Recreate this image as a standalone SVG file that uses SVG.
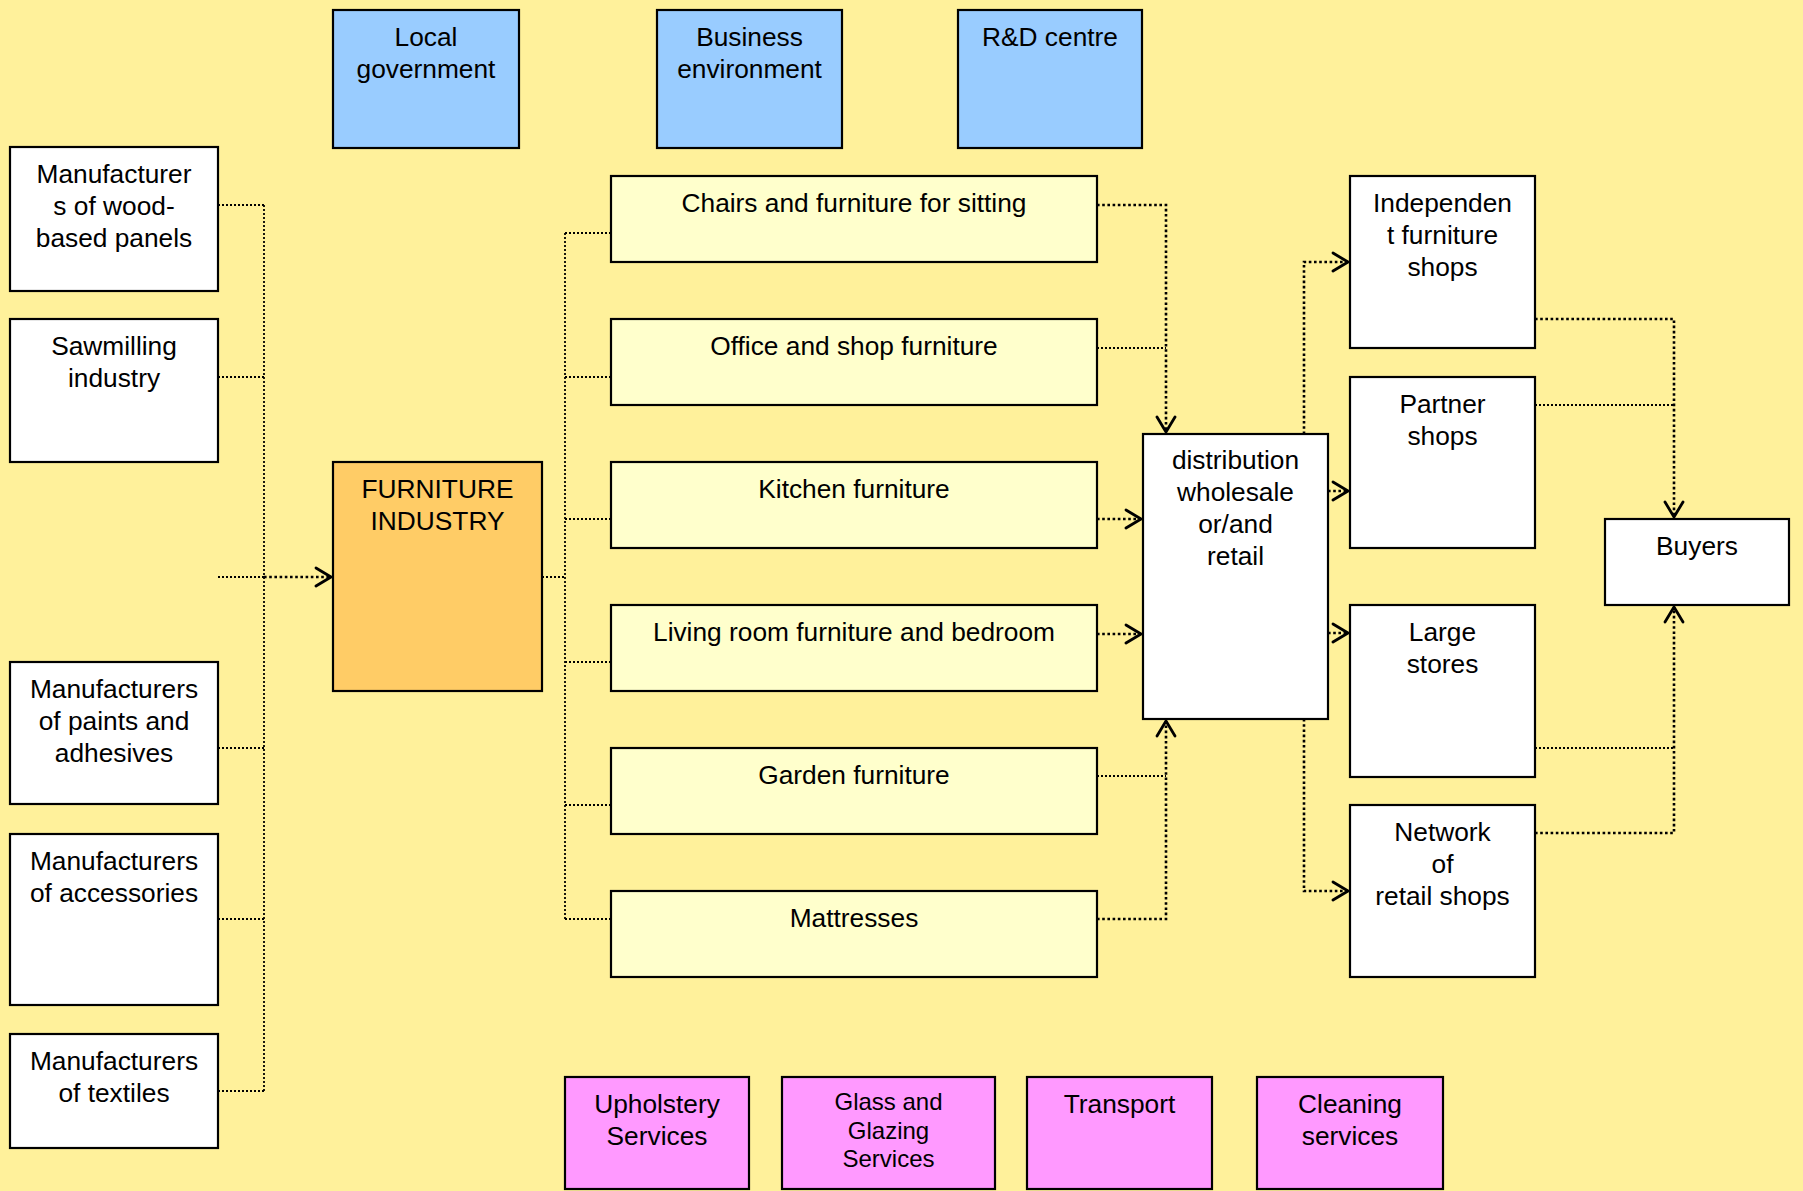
<svg xmlns="http://www.w3.org/2000/svg" width="1803" height="1191" viewBox="0 0 1803 1191">
<style>
.box{stroke:#000;stroke-width:2.2}
.white{fill:#fff}
.blue{fill:#99ccff}
.orange{fill:#ffcc66}
.pale{fill:#ffffcc}
.pink{fill:#ff99ff}
text{font-family:"Liberation Sans",Arial,sans-serif;font-size:26.3px;fill:#000;text-anchor:middle}
.small{font-size:24px}
.bus{fill:none;stroke:#000;stroke-width:1.8;stroke-dasharray:2 2}
.arr{fill:none;stroke:#000;stroke-width:2.6;stroke-dasharray:2.6 2.6}
</style>
<defs>
<marker id="ah" markerUnits="userSpaceOnUse" viewBox="-18 -11 20 22" refX="0" refY="0" markerWidth="20" markerHeight="22" orient="auto">
<path d="M-15,-9 L0,0 L-15,9" fill="none" stroke="#000" stroke-width="2.8" stroke-linecap="round" stroke-linejoin="miter"/>
</marker>
</defs>
<rect x="0" y="0" width="1803" height="1191" fill="#fff19b"/>

<g id="connectors">
<path class="bus" d="M218,205H264M218,377H264M218,748H264M218,919H264M218,1091H264M264,205V1091M218,577H264"/>
<path class="arr" d="M264,577H331" marker-end="url(#ah)"/>
<path class="bus" d="M542,577H565M565,233V919M565,233H611M565,377H611M565,519H611M565,662H611M565,805H611M565,919H611"/>
<path class="arr" d="M1097,205H1166V432" marker-end="url(#ah)"/>
<path class="bus" d="M1097,348H1166M1097,776H1166"/>
<path class="arr" d="M1097,519H1141" marker-end="url(#ah)"/>
<path class="arr" d="M1097,634H1141" marker-end="url(#ah)"/>
<path class="arr" d="M1097,919H1166V721" marker-end="url(#ah)"/>
<path class="arr" d="M1304,434V262H1348" marker-end="url(#ah)"/>
<path class="arr" d="M1328,491H1348" marker-end="url(#ah)"/>
<path class="arr" d="M1328,633H1348" marker-end="url(#ah)"/>
<path class="arr" d="M1304,719V891H1348" marker-end="url(#ah)"/>
<path class="arr" d="M1535,319H1674V517" marker-end="url(#ah)"/>
<path class="bus" d="M1535,405H1674M1535,748H1674"/>
<path class="arr" d="M1535,833H1674V607" marker-end="url(#ah)"/>
</g>

<g id="local-government"><rect class="box blue" x="333" y="10" width="186" height="138"/><text x="426" y="46">Local</text><text x="426" y="78">government</text></g>
<g id="business-environment"><rect class="box blue" x="657" y="10" width="185" height="138"/><text x="749.5" y="46">Business</text><text x="749.5" y="78">environment</text></g>
<g id="rd-centre"><rect class="box blue" x="958" y="10" width="184" height="138"/><text x="1050" y="46">R&amp;D centre</text></g>

<g id="wood-panels"><rect class="box white" x="10" y="147" width="208" height="144"/><text x="114" y="183">Manufacturer</text><text x="114" y="215">s of wood-</text><text x="114" y="247">based panels</text></g>
<g id="sawmilling"><rect class="box white" x="10" y="319" width="208" height="143"/><text x="114" y="355">Sawmilling</text><text x="114" y="387">industry</text></g>
<g id="paints"><rect class="box white" x="10" y="662" width="208" height="142"/><text x="114" y="698">Manufacturers</text><text x="114" y="730">of paints and</text><text x="114" y="762">adhesives</text></g>
<g id="accessories"><rect class="box white" x="10" y="834" width="208" height="171"/><text x="114" y="870">Manufacturers</text><text x="114" y="902">of accessories</text></g>
<g id="textiles"><rect class="box white" x="10" y="1034" width="208" height="114"/><text x="114" y="1070">Manufacturers</text><text x="114" y="1102">of textiles</text></g>

<g id="furniture-industry"><rect class="box orange" x="333" y="462" width="209" height="229"/><text x="437.5" y="498">FURNITURE</text><text x="437.5" y="530">INDUSTRY</text></g>

<g id="chairs"><rect class="box pale" x="611" y="176" width="486" height="86"/><text x="854" y="212">Chairs and furniture for sitting</text></g>
<g id="office"><rect class="box pale" x="611" y="319" width="486" height="86"/><text x="854" y="355">Office and shop furniture</text></g>
<g id="kitchen"><rect class="box pale" x="611" y="462" width="486" height="86"/><text x="854" y="498">Kitchen furniture</text></g>
<g id="living"><rect class="box pale" x="611" y="605" width="486" height="86"/><text x="854" y="641">Living room furniture and bedroom</text></g>
<g id="garden"><rect class="box pale" x="611" y="748" width="486" height="86"/><text x="854" y="784">Garden furniture</text></g>
<g id="mattresses"><rect class="box pale" x="611" y="891" width="486" height="86"/><text x="854" y="927">Mattresses</text></g>

<g id="distribution"><rect class="box white" x="1143" y="434" width="185" height="285"/><text x="1235.5" y="469">distribution</text><text x="1235.5" y="501">wholesale</text><text x="1235.5" y="533">or/and</text><text x="1235.5" y="565">retail</text></g>

<g id="independent"><rect class="box white" x="1350" y="176" width="185" height="172"/><text x="1442.5" y="212">Independen</text><text x="1442.5" y="244">t furniture</text><text x="1442.5" y="276">shops</text></g>
<g id="partner"><rect class="box white" x="1350" y="377" width="185" height="171"/><text x="1442.5" y="413">Partner</text><text x="1442.5" y="445">shops</text></g>
<g id="large-stores"><rect class="box white" x="1350" y="605" width="185" height="172"/><text x="1442.5" y="641">Large</text><text x="1442.5" y="673">stores</text></g>
<g id="network"><rect class="box white" x="1350" y="805" width="185" height="172"/><text x="1442.5" y="841">Network</text><text x="1442.5" y="873">of</text><text x="1442.5" y="905">retail shops</text></g>

<g id="buyers"><rect class="box white" x="1605" y="519" width="184" height="86"/><text x="1697" y="555">Buyers</text></g>

<g id="upholstery"><rect class="box pink" x="565" y="1077" width="184" height="112"/><text x="657" y="1113">Upholstery</text><text x="657" y="1145">Services</text></g>
<g id="glass"><rect class="box pink" x="782" y="1077" width="213" height="112"/><text class="small" x="888.5" y="1110">Glass and</text><text class="small" x="888.5" y="1139">Glazing</text><text class="small" x="888.5" y="1167">Services</text></g>
<g id="transport"><rect class="box pink" x="1027" y="1077" width="185" height="112"/><text x="1119.5" y="1113">Transport</text></g>
<g id="cleaning"><rect class="box pink" x="1257" y="1077" width="186" height="112"/><text x="1350" y="1113">Cleaning</text><text x="1350" y="1145">services</text></g>
</svg>
